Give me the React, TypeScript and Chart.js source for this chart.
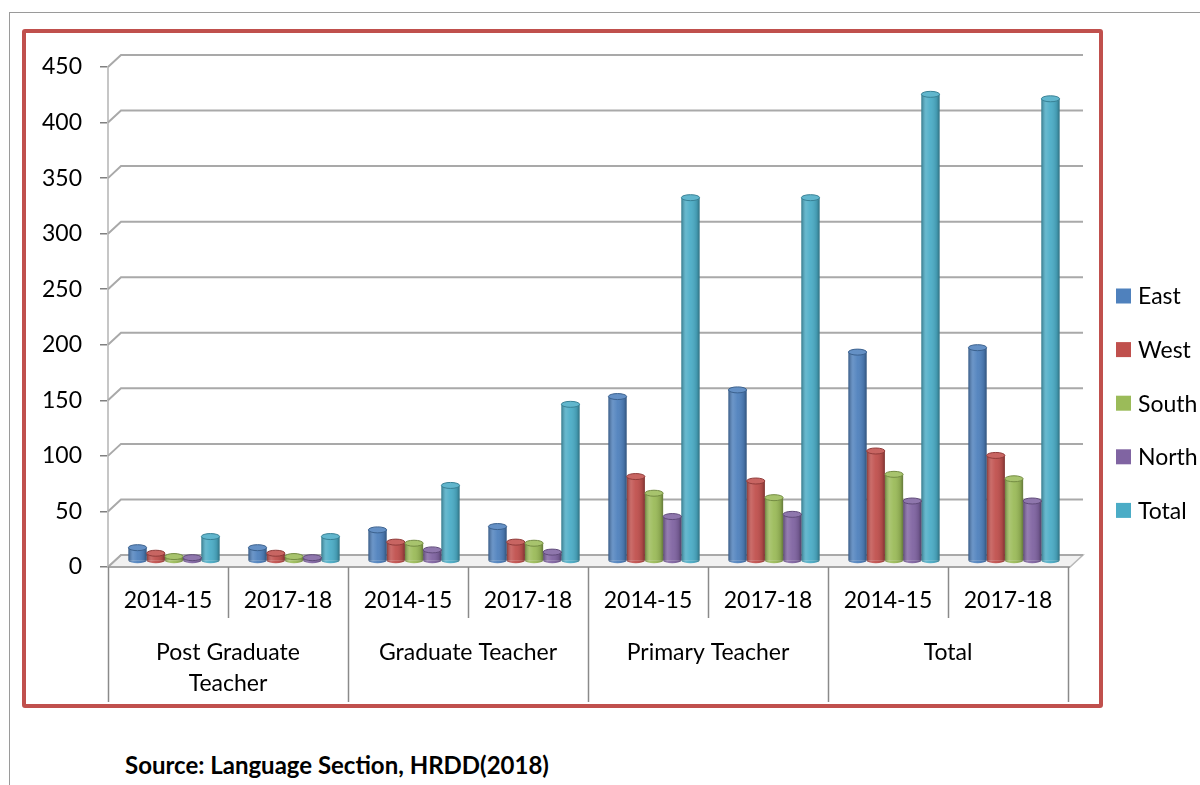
import { useEffect, useRef } from "react";
import { Chart, registerables } from "chart.js";

Chart.register(...registerables);

// ---- data ----
const years = ["2014-15", "2017-18", "2014-15", "2017-18", "2014-15", "2017-18", "2014-15", "2017-18"];
const groups = [["Post Graduate", "Teacher"], ["Graduate Teacher"], ["Primary Teacher"], ["Total"]];
const seriesNames = ["East", "West", "South", "North", "Total"];
const east = [12, 12, 28, 31, 148, 154, 188, 192];
const west = [7, 7, 17, 17, 76, 72, 99, 95];
const south = [4, 4, 16, 16, 61, 57, 78, 74];
const north = [3, 3, 10, 8, 40, 42, 54, 54];
const total = [22, 22, 68, 141, 327, 327, 420, 416];
const seriesColors = ["#4f81bd", "#c0504d", "#9bbb59", "#8064a2", "#4bacc6"];
const yMin = 0;
const yMax = 450;
const yStep = 50;
const sourceNote = "Source: Language Section, HRDD(2018)";

const FONT = "Lato, 'Open Sans', sans-serif";
// back wall depth offset and half-depth offset for the columns
const WALL_DX = 13;
const WALL_DY = 12;
const BAR_DX = 6;
const BAR_DY = 6;

function shade(hex: string, amt: number): string {
  const n = parseInt(hex.slice(1), 16);
  let r = (n >> 16) & 255, g = (n >> 8) & 255, b = n & 255;
  if (amt >= 0) {
    r = r + (255 - r) * amt; g = g + (255 - g) * amt; b = b + (255 - b) * amt;
  } else {
    r = r * (1 + amt); g = g * (1 + amt); b = b * (1 + amt);
  }
  return `rgb(${Math.round(r)},${Math.round(g)},${Math.round(b)})`;
}

const depthPlugin = {
  id: "depth3d",
  beforeDatasetsDraw(chart: any) {
    const { ctx, chartArea, scales } = chart;
    const ys = scales.y;
    const L = chartArea.left;
    const R = chartArea.right + 2;
    const y0 = ys.getPixelForValue(0);
    ctx.save();
    // floor
    ctx.beginPath();
    ctx.moveTo(L, y0);
    ctx.lineTo(R, y0);
    ctx.lineTo(R + WALL_DX, y0 - WALL_DY);
    ctx.lineTo(L + WALL_DX, y0 - WALL_DY);
    ctx.closePath();
    ctx.fillStyle = "#f1f1f1";
    ctx.fill();
    ctx.strokeStyle = "#b8b8b8";
    ctx.lineWidth = 1.5;
    ctx.stroke();
    // back wall gridlines
    ctx.strokeStyle = "#a9a9a9";
    ctx.lineWidth = 2;
    ys.ticks.forEach((t: any) => {
      const py = ys.getPixelForValue(t.value);
      ctx.beginPath();
      ctx.moveTo(L, py);
      ctx.lineTo(L + WALL_DX, py - WALL_DY);
      ctx.lineTo(R + WALL_DX, py - WALL_DY);
      ctx.stroke();
    });
    ctx.restore();
    ctx.save();
    ctx.translate(BAR_DX, -BAR_DY);
  },
  afterDatasetsDraw(chart: any) {
    const { ctx } = chart;
    chart.data.datasets.forEach((ds: any, di: number) => {
      const meta = chart.getDatasetMeta(di);
      const base = ds.backgroundColor as string;
      meta.data.forEach((bar: any) => {
        const { x, y, base: b, width } = bar.getProps(["x", "y", "base", "width"], true);
        const l = x - width / 2;
        const rx = width / 2;
        // round bottom
        ctx.beginPath();
        ctx.ellipse(x, b, rx, 3, 0, 0, Math.PI);
        ctx.fillStyle = base;
        ctx.fill();
        // cylinder shading
        const g = ctx.createLinearGradient(l, 0, l + width, 0);
        g.addColorStop(0, "rgba(0,0,0,0.30)");
        g.addColorStop(0.25, "rgba(255,255,255,0.16)");
        g.addColorStop(0.5, "rgba(255,255,255,0.05)");
        g.addColorStop(0.85, "rgba(0,0,0,0.12)");
        g.addColorStop(1, "rgba(0,0,0,0.35)");
        ctx.fillStyle = g;
        ctx.beginPath();
        ctx.rect(l, y, width, b - y);
        ctx.ellipse(x, b, rx, 3, 0, 0, Math.PI);
        ctx.fill();
        // top cap
        ctx.beginPath();
        ctx.ellipse(x, y, rx, 3, 0, 0, Math.PI * 2);
        ctx.fillStyle = shade(base, 0.12);
        ctx.fill();
        ctx.strokeStyle = shade(base, -0.25);
        ctx.lineWidth = 1;
        ctx.stroke();
      });
    });
    ctx.restore();
  },
  afterDraw(chart: any) {
    const { ctx, chartArea, scales } = chart;
    const xs = scales.x;
    const yB = chartArea.bottom;
    const L = chartArea.left;
    const R = chartArea.right + 2;
    ctx.save();
    // front edge of the floor
    ctx.strokeStyle = "#9a9a9a";
    ctx.lineWidth = 1.5;
    ctx.beginPath();
    ctx.moveTo(L, yB);
    ctx.lineTo(R, yB);
    ctx.stroke();
    // category dividers
    const half = (xs.getPixelForValue(1) - xs.getPixelForValue(0)) / 2;
    ctx.strokeStyle = "#8a8a8a";
    for (let i = 0; i <= years.length; i++) {
      const edge = i < years.length ? xs.getPixelForValue(i) - half : xs.getPixelForValue(years.length - 1) + half;
      const len = i % 2 === 0 ? 135 : 51;
      ctx.beginPath();
      ctx.moveTo(Math.round(edge) + 0.5, yB);
      ctx.lineTo(Math.round(edge) + 0.5, yB + len);
      ctx.stroke();
    }
    // year labels and group labels
    ctx.fillStyle = "#000";
    ctx.font = `23px ${FONT}`;
    ctx.textAlign = "center";
    ctx.textBaseline = "middle";
    years.forEach((t, i) => ctx.fillText(t, xs.getPixelForValue(i), yB + 34));
    groups.forEach((lines, gi) => {
      const cx = (xs.getPixelForValue(gi * 2) + xs.getPixelForValue(gi * 2 + 1)) / 2;
      lines.forEach((ln, k) => ctx.fillText(ln, cx, yB + 86 + k * 31));
    });
    // legend
    ctx.textAlign = "left";
    const lx = chartArea.right + 48;
    chart.data.datasets.forEach((ds: any, i: number) => {
      const cy = chartArea.top + 229 + i * 53.6;
      ctx.fillStyle = ds.backgroundColor;
      ctx.fillRect(lx, cy - 7.5, 15, 15);
      ctx.fillStyle = "#000";
      ctx.fillText(ds.label, lx + 22, cy + 1);
    });
    ctx.restore();
  },
};

export default function App() {
  const canvasRef = useRef<HTMLCanvasElement | null>(null);

  useEffect(() => {
    if (!canvasRef.current) return;
    const values = [east, west, south, north, total];
    const chart = new Chart(canvasRef.current, {
      type: "bar",
      data: {
        labels: years,
        datasets: seriesNames.map((name, i) => ({
          label: name,
          data: values[i],
          backgroundColor: seriesColors[i],
          borderWidth: 0,
          barPercentage: 1,
          categoryPercentage: 0.76,
        })),
      },
      options: {
        animation: false,
        responsive: true,
        maintainAspectRatio: false,
        layout: { padding: { left: 0, right: 132, top: 67, bottom: 218 } },
        plugins: { legend: { display: false }, tooltip: { enabled: false } },
        scales: {
          x: { display: false },
          y: {
            min: yMin,
            max: yMax,
            ticks: { stepSize: yStep, color: "#000", font: { family: FONT, size: 23 }, padding: 18 },
            grid: { drawOnChartArea: false, drawTicks: true, tickLength: 8, color: "#808080", lineWidth: 1.5 },
            border: { display: true, color: "#c6c6c6", width: 2 },
            afterFit: (scale: any) => {
              scale.width = 108;
            },
          },
        },
      },
      plugins: [depthPlugin],
    });
    return () => chart.destroy();
  }, []);

  return (
    <div style={{ position: "fixed", left: 0, top: 0, width: 1200, height: 785, background: "#fff", overflow: "hidden" }}>
      <div
        style={{
          position: "absolute",
          left: 9,
          top: 12,
          right: -10,
          bottom: -10,
          borderTop: "1.5px solid #9a9a9a",
          borderLeft: "1.5px solid #9a9a9a",
        }}
      />
      <div
        style={{
          position: "absolute",
          left: 22,
          top: 29,
          width: 1081,
          height: 679,
          boxSizing: "border-box",
          border: "4px solid #c0504d",
          borderRadius: 3,
        }}
      />
      <div
        style={{
          position: "absolute",
          left: 125,
          top: 749,
          fontFamily: FONT,
          fontWeight: 700,
          fontSize: 24,
          lineHeight: "32px",
          color: "#000",
          whiteSpace: "nowrap",
        }}
      >
        {sourceNote}
      </div>
      <canvas ref={canvasRef} style={{ position: "absolute", left: 0, top: 0, width: 1200, height: 785 }} />
    </div>
  );
}
